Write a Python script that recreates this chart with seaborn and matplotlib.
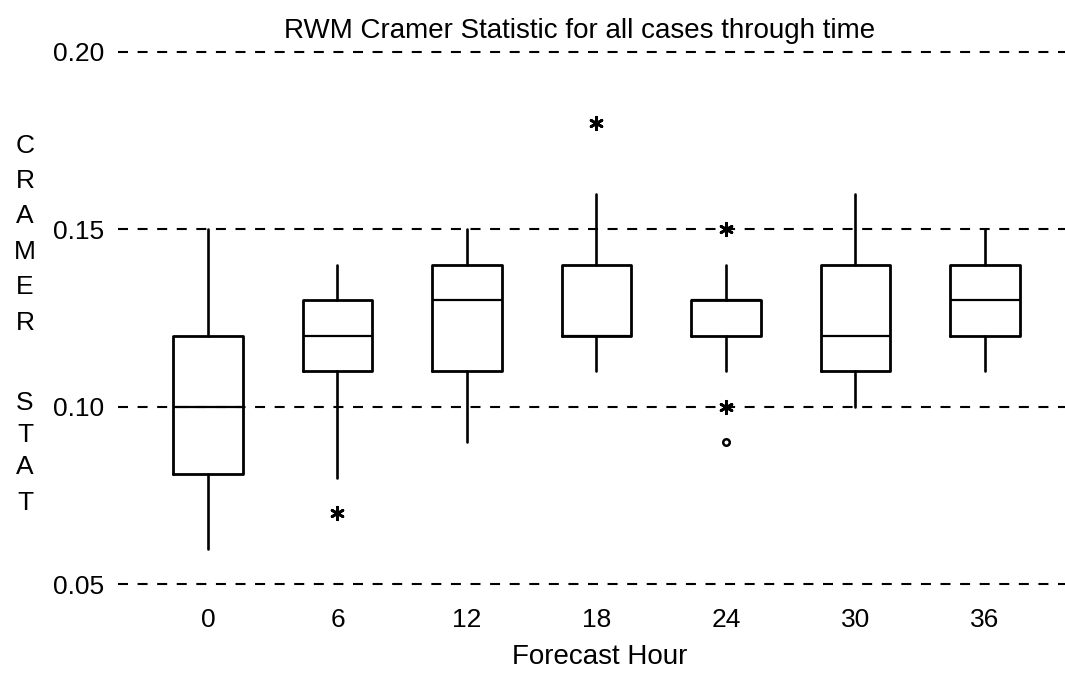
import pandas as pd
import seaborn as sns
import matplotlib.pyplot as plt

# box summaries (SPSS-style boxplot)
hours = ["0", "6", "12", "18", "24", "30", "36"]
whisker_low = [0.06, 0.08, 0.09, 0.11, 0.11, 0.10, 0.11]
q1 = [0.081, 0.11, 0.11, 0.12, 0.12, 0.11, 0.12]
median = [0.10, 0.12, 0.13, 0.12, 0.13, 0.12, 0.13]
q3 = [0.12, 0.13, 0.14, 0.14, 0.13, 0.14, 0.14]
whisker_high = [0.15, 0.14, 0.15, 0.16, 0.14, 0.16, 0.15]

# extremes (asterisks) and outliers (circles)
extreme_hours = ["6", "18", "24", "24"]
extreme_vals = [0.07, 0.18, 0.15, 0.10]
outlier_hours = ["24"]
outlier_vals = [0.09]

sns.set_theme(style="white")
plt.rcParams["font.family"] = ["Liberation Sans", "DejaVu Sans"]
plt.rcParams["text.color"] = "black"

fig = plt.figure(figsize=(10.65, 6.73), dpi=100)
ax = fig.add_axes([118 / 1065, 87 / 673, 947 / 1065, 536 / 673])

stats = [
    dict(label=h, whislo=lo, q1=a, med=m, q3=b, whishi=hi, fliers=[])
    for h, lo, a, m, b, hi in zip(hours, whisker_low, q1, median, q3, whisker_high)
]
ax.bxp(stats, positions=range(len(hours)), widths=0.54, showcaps=False,
       boxprops=dict(color="black", linewidth=2),
       whiskerprops=dict(color="black", linewidth=1.9),
       medianprops=dict(color="black", linewidth=1.6))

ext = pd.DataFrame({"pos": [hours.index(h) for h in extreme_hours], "val": extreme_vals})
out = pd.DataFrame({"pos": [hours.index(h) for h in outlier_hours], "val": outlier_vals})
sns.scatterplot(data=ext, x="pos", y="val", ax=ax, marker=(6, 2, 0), s=80,
                color="black", linewidth=2, zorder=5)
sns.scatterplot(data=out, x="pos", y="val", ax=ax, marker="o", s=22,
                facecolor="white", edgecolor="black", linewidth=1.8, zorder=5)

ax.set_xlim(-0.695, 6.618)
ax.set_ylim(0.0495, 0.2005)
ax.set_yticks([0.05, 0.10, 0.15, 0.20])
ax.set_yticklabels(["0.05", "0.10", "0.15", "0.20"])
ax.set_xticks(range(len(hours)))
ax.set_xticklabels(hours)
ax.set_xlabel("")
ax.set_ylabel("")
ax.tick_params(axis="both", length=0, labelsize=19, colors="black")
ax.tick_params(axis="y", pad=10)
ax.tick_params(axis="x", pad=16)
ax.yaxis.grid(True, color="black", linewidth=1.5, linestyle=(0, (4.8, 4.6)))
ax.xaxis.grid(False)
ax.set_axisbelow(True)
for s in ax.spines.values():
    s.set_visible(False)

fig.text(580 / 1065, 1 - 38 / 673, "RWM Cramer Statistic for all cases through time",
         ha="center", va="baseline", fontsize=20)
fig.text(600 / 1065, 1 - 657 / 673, "Forecast Hour", ha="center", va="center", fontsize=20)

# vertical y-axis title, one letter per line
letter_y = [146, 181, 216, 252, 287, 323, 403, 435, 467, 503]
for ch, y in zip("CRAMERSTAT", letter_y):
    fig.text(25 / 1065, 1 - y / 673, ch, ha="center", va="center", fontsize=19)

fig.savefig("out.png", dpi=100)
